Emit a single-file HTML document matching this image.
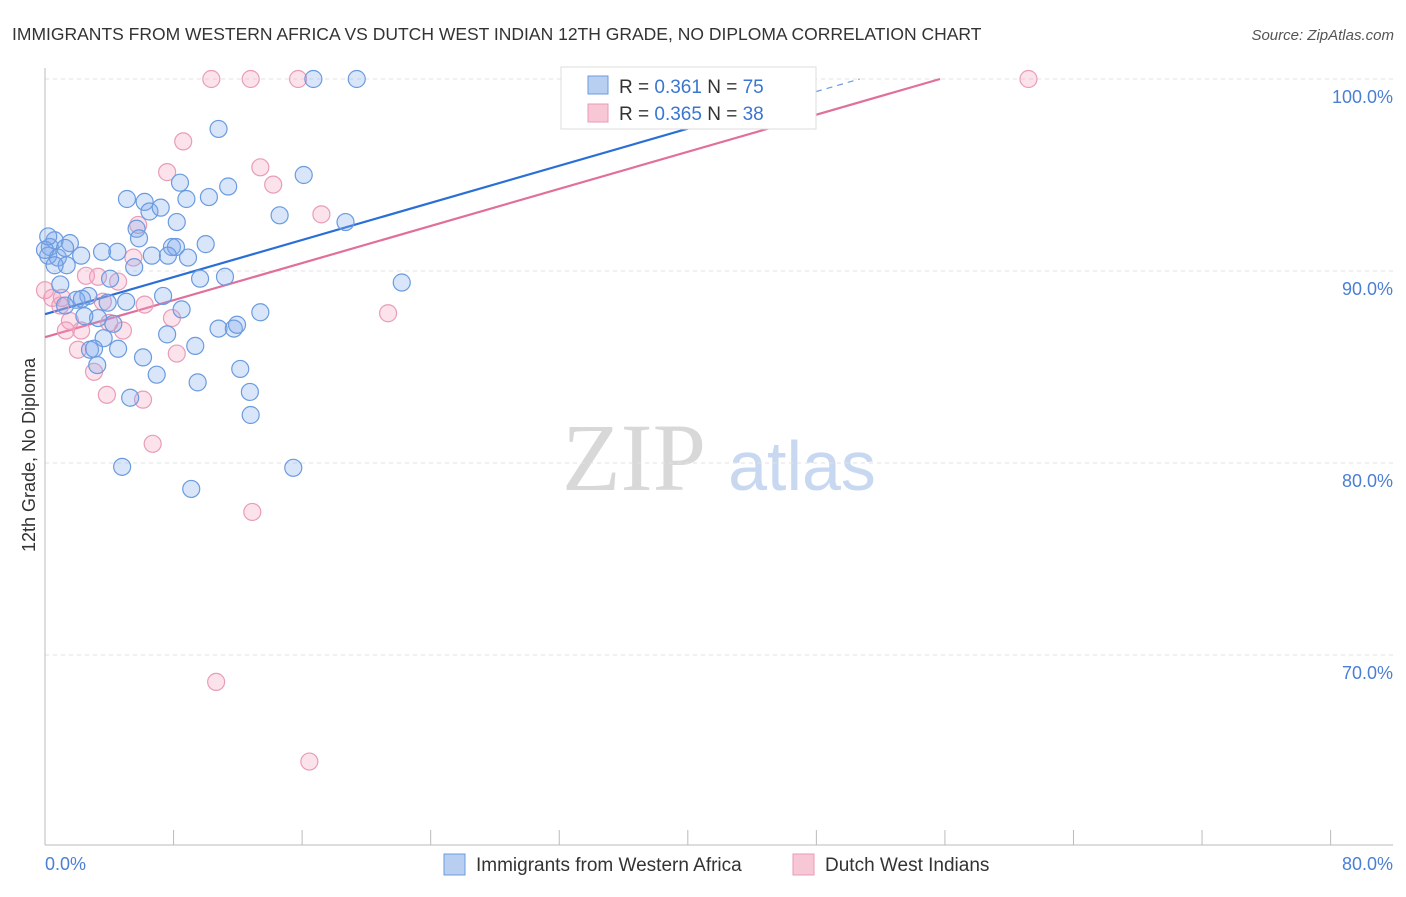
<!DOCTYPE html>
<html><head><meta charset="utf-8">
<style>
body{margin:0;background:#fff;font-family:"Liberation Sans",sans-serif;}
svg text{font-family:"Liberation Sans",sans-serif;}
</style></head><body>
<svg id="chart" width="1406" height="892" viewBox="0 0 1406 892">
<text x="12" y="40" font-size="17.5" fill="#333">IMMIGRANTS FROM WESTERN AFRICA VS DUTCH WEST INDIAN 12TH GRADE, NO DIPLOMA CORRELATION CHART</text>
<text x="1394" y="40" font-size="15" fill="#555" text-anchor="end" font-style="italic">Source: ZipAtlas.com</text>
<text x="634" y="490" font-size="96" fill="#d8d8d8" text-anchor="middle" font-family="Liberation Serif" style="font-family:'Liberation Serif',serif">ZIP</text>
<text x="802" y="490" font-size="70" fill="#c8d8f0" text-anchor="middle">atlas</text>
<text transform="translate(35,455) rotate(-90)" font-size="18" fill="#333" text-anchor="middle">12th Grade, No Diploma</text>
<g id="grid"></g><g id="axes"></g><g id="lines"></g><g id="pts"></g>
<g>
<rect x="561" y="67" width="255" height="62" fill="#fff" stroke="#ddd"/>
<rect x="588" y="76" width="20" height="18" fill="#b8cff2" stroke="#6a9be0"/>
<text x="619" y="93" font-size="19" fill="#333">R = <tspan fill="#3a76d0">0.361</tspan>   N = <tspan fill="#3a76d0">75</tspan></text>
<rect x="588" y="104" width="20" height="18" fill="#f7c7d6" stroke="#e89ab5"/>
<text x="619" y="120" font-size="19" fill="#333">R = <tspan fill="#3a76d0">0.365</tspan>   N = <tspan fill="#3a76d0">38</tspan></text>
</g>
<g>
<rect x="444" y="854" width="21" height="21" fill="#b8cff2" stroke="#6a9be0"/>
<text x="476" y="871" font-size="19" fill="#333">Immigrants from Western Africa</text>
<rect x="793" y="854" width="21" height="21" fill="#f7c7d6" stroke="#e89ab5"/>
<text x="825" y="871" font-size="19" fill="#333">Dutch West Indians</text>
</g>
</svg>
<script>
const blueX=[16.7,19.4,33.4,10.8,8.4,11.4,16.1,5.1,6.2,8.8,10.2,6.5,7.2,8.2,14.6,18.7,5.7,5.85,10.0,7.9,8.15,6.65,7.65,8.9,3.55,4.5,1.55,0.6,0.3,0.2,0.8,1.35,2.25,5.55,4.05,9.65,11.2,22.2,0.95,2.7,1.95,2.3,1.25,3.9,5.05,7.35,8.5,13.4,3.3,4.25,2.45,10.8,11.75,11.95,7.6,3.65,9.35,2.8,3.05,4.55,6.1,3.25,6.95,12.15,9.5,12.75,5.3,12.8,4.8,15.45,9.1,0,0.2,0.6,1.25];
const blueY=[100,100,100,97.4,94.6,94.4,95.0,93.75,93.6,93.75,93.85,93.1,93.3,92.55,92.9,92.55,92.2,91.7,91.4,91.25,91.25,90.8,90.8,90.7,91.0,91.0,91.45,91.6,91.25,90.8,90.7,90.3,90.8,90.2,89.6,89.6,89.7,89.4,89.3,88.7,88.5,88.55,88.2,88.35,88.4,88.7,88.0,87.85,87.55,87.25,87.65,87.0,87.0,87.2,86.7,86.5,86.1,85.9,85.95,85.95,85.5,85.1,84.6,84.9,84.2,83.7,83.4,82.5,79.8,79.75,78.65,91.1,91.8,90.3,91.2];
const pinkX=[10.35,12.8,15.75,61.2,8.6,7.6,13.4,14.2,17.2,5.8,5.5,2.55,3.3,4.55,0.45,0.95,6.2,3.6,21.35,7.9,1.55,1.3,2.25,4.85,4.0,2.05,8.2,3.05,3.85,6.1,6.7,12.9,10.65,16.45,1.05,0];
const pinkY=[100,100,100,100,96.75,95.15,95.4,94.5,92.95,92.4,90.7,89.75,89.7,89.45,88.6,88.2,88.25,88.4,87.8,87.55,87.4,86.9,86.9,86.9,87.3,85.9,85.7,84.75,83.55,83.3,81.0,77.45,68.6,64.45,88.6,89.0];
const yTicks=[100,90,80,70];
const xTickVals=[0,8,16,24,32,40,48,56,64,72,80];
const blueTrend=[87.75,100]; const blueTrendEndX=50.7; const blueSolidEndX=41.4;
const pinkTrend=[86.55,100]; const pinkTrendEndX=55.7;
const X=v=>45+v*16.07, Y=v=>79+(100-v)*19.2;
const NS='http://www.w3.org/2000/svg';
function mk(p,t,a){const e=document.createElementNS(NS,t);for(const k in a)e.setAttribute(k,a[k]);p.appendChild(e);return e;}
const grid=document.getElementById('grid'),axes=document.getElementById('axes'),lines=document.getElementById('lines'),pts=document.getElementById('pts');
yTicks.forEach(t=>{const l=mk(grid,'line',{x1:45,x2:1393,y1:Y(t),y2:Y(t),stroke:'#e2e2e2','stroke-dasharray':'4,4'});


const tx=mk(axes,'text',{x:1393,y:Y(t)+24,'font-size':18,fill:'#4a7fd4','text-anchor':'end'});tx.textContent=t.toFixed(1)+'%';

});
const ax=mk(axes,'line',{x1:45,x2:1393,y1:845,y2:845,stroke:'#bbb'});


const ay=mk(axes,'line',{x1:45,x2:45,y1:68,y2:845,stroke:'#bbb'});


xTickVals.forEach(v=>{const t=mk(axes,'line',{x1:X(v),x2:X(v),y1:830,y2:845,stroke:'#bbb'});

});
const xl=mk(axes,'text',{x:45,y:870,'font-size':18,fill:'#4a7fd4'});xl.textContent='0.0%';


const xr=mk(axes,'text',{x:1393,y:870,'font-size':18,fill:'#4a7fd4','text-anchor':'end'});xr.textContent='80.0%';


function ly(tr,end,x){return tr[0]+(tr[1]-tr[0])*x/end;}
const b1=mk(lines,'line',{x1:X(0),y1:Y(blueTrend[0]),x2:X(blueSolidEndX),y2:Y(ly(blueTrend,blueTrendEndX,blueSolidEndX)),stroke:'#2a6fd6','stroke-width':2.2});


const b2=mk(lines,'line',{x1:X(blueSolidEndX),y1:Y(ly(blueTrend,blueTrendEndX,blueSolidEndX)),x2:X(blueTrendEndX),y2:Y(blueTrend[1]),stroke:'#6a9be0','stroke-width':1.2,'stroke-dasharray':'6,5'});


const p1=mk(lines,'line',{x1:X(0),y1:Y(pinkTrend[0]),x2:X(pinkTrendEndX),y2:Y(pinkTrend[1]),stroke:'#e0709a','stroke-width':2.2});


pinkX.forEach((x,i)=>{const c=mk(pts,'circle',{cx:X(x),cy:Y(pinkY[i]),r:8.5,fill:'rgba(245,160,190,0.3)',stroke:'#e99cb8','stroke-width':1.2});

});
blueX.forEach((x,i)=>{const c=mk(pts,'circle',{cx:X(x),cy:Y(blueY[i]),r:8.5,fill:'rgba(130,170,235,0.3)',stroke:'#6a9be0','stroke-width':1.2});

});
</script>
</body></html>
